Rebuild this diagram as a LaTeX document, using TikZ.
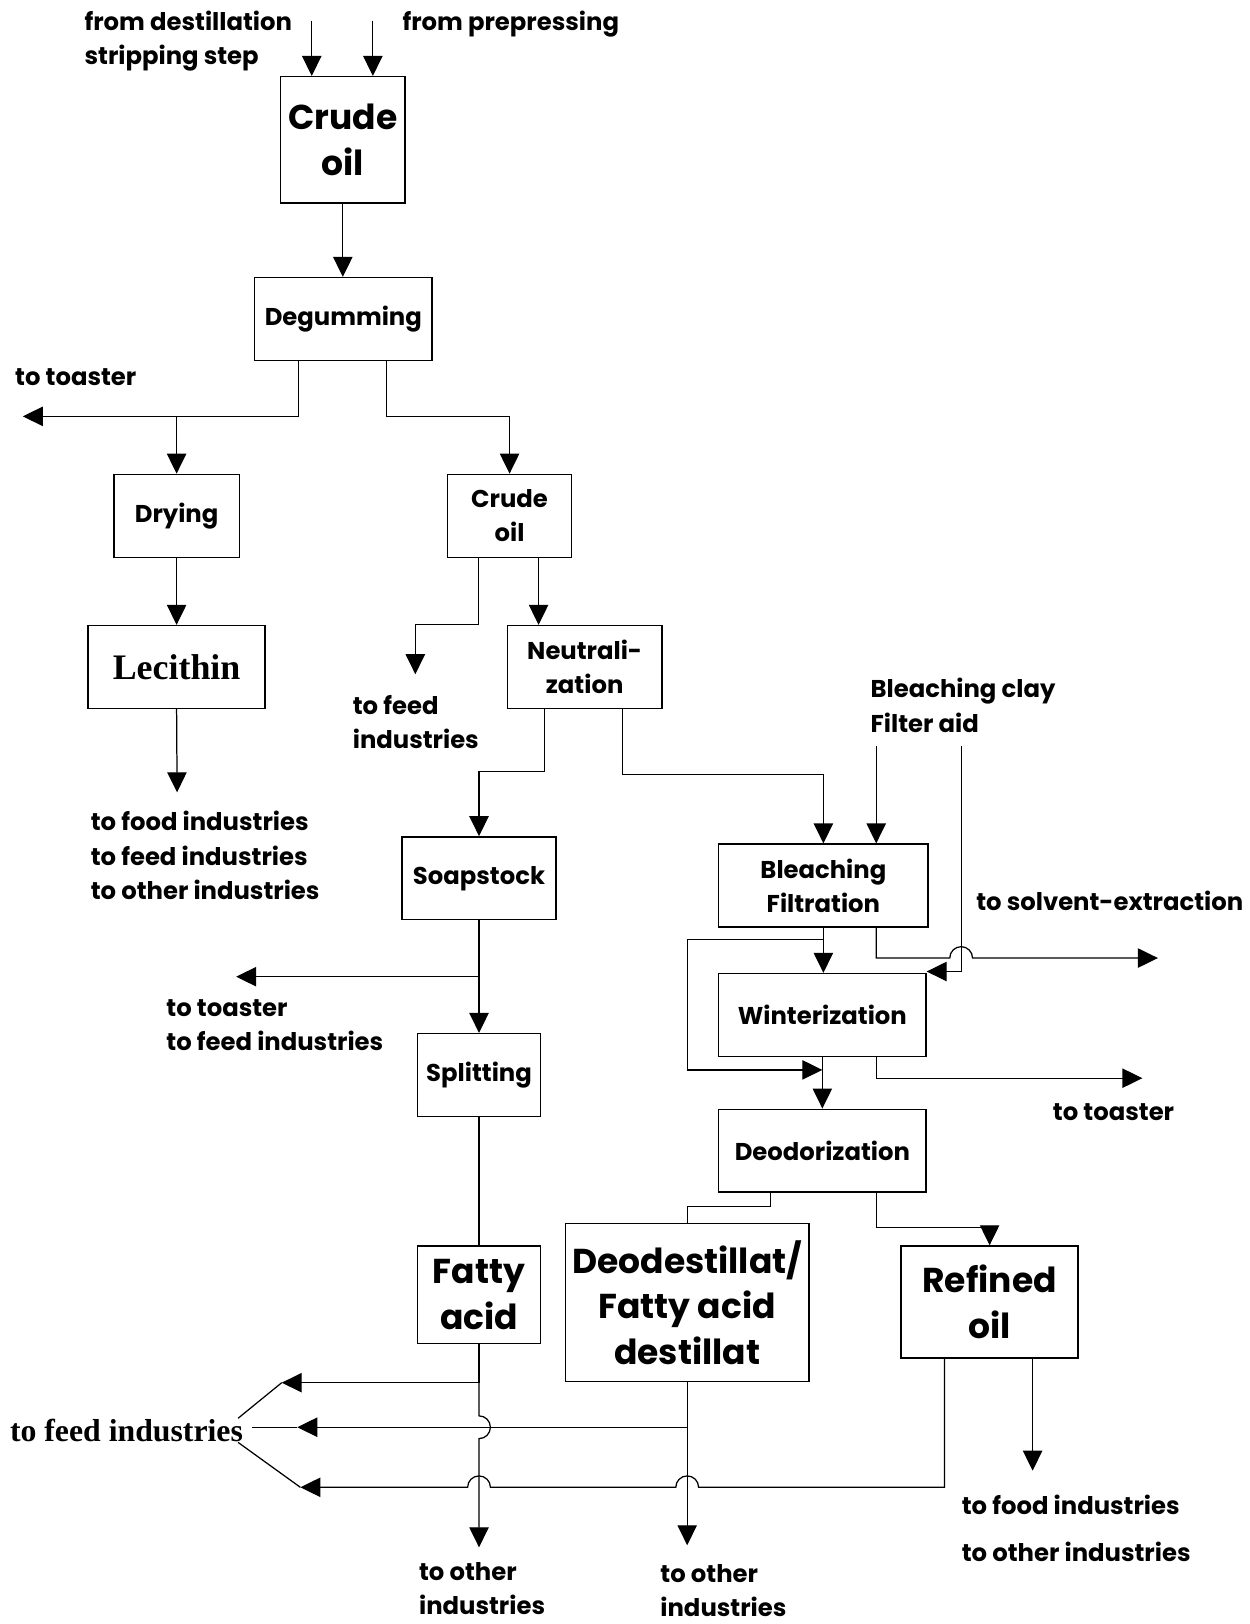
\documentclass[tikz,border=0pt]{standalone}
\usepackage{fontspec}
\setmainfont{Poppins}
\newfontfamily\timesfont{Liberation Serif}
\usetikzlibrary{arrows.meta}

\begin{document}
\begin{tikzpicture}[x=0.75pt, y=-0.75pt, line width=1pt,
    box/.style={draw, align=center, inner sep=0pt, minimum height=60pt,
      font=\bfseries\fontsize{17.6}{24.75}\selectfont},
    bigbox/.style={box, font=\bfseries\fontsize{25}{33}\selectfont},
    lbl/.style={anchor=west, align=left, inner sep=0pt,
      font=\bfseries\fontsize{17.6}{24.75}\selectfont},
    flow/.style={line width=0.9pt, -{Triangle[length=14.5pt, width=14pt]}}]

   \useasboundingbox (0,0) rectangle (1206,1568);

   % process steps
   \node[bigbox, minimum width=90pt, minimum height=91.5pt] (crude) at (331,135) {Crude\\oil};
   \node[box, minimum width=128.25pt] (degum) at (331.5,308) {Degumming};
   \node[box, minimum width=90.75pt] (drying) at (170.5,498) {Drying};
   \node[box, minimum width=128.25pt, font=\timesfont\bfseries\fontsize{26}{30}\selectfont] (lecithin) at (170.5,644) {Lecithin};
   \node[box, minimum width=90pt] (crude2) at (492,498) {Crude\\oil};
   \node[box, minimum width=111.75pt] (neutral) at (564.5,644) {Neutrali-\\zation};
   \node[box, minimum width=111.75pt] (soap) at (462.5,848) {Soapstock};
   \node[box, minimum width=89.25pt] (split) at (462.5,1038) {Splitting};
   \node[box, minimum width=151.5pt] (bleach) at (795,855) {Bleaching\\Filtration};
   \node[box, minimum width=150pt] (winter) at (794,980) {Winterization};
   \node[box, minimum width=150pt] (deodor) at (794,1111) {Deodorization};
   \node[bigbox, minimum width=89.25pt, minimum height=70.5pt] (fatty) at (462.5,1250) {Fatty\\acid};
   \node[bigbox, minimum width=176.25pt, minimum height=114.75pt] (deodest) at (663.5,1257.5) {Deodestillat/\\Fatty acid\\destillat};
   \node[bigbox, minimum width=128.25pt, minimum height=81pt] (refined) at (955.5,1257) {Refined\\oil};

   % inputs and outputs
   \node[lbl] (fromdest) at (81,40) {from destillation\\stripping step};
   \node[lbl] (frompre) at (388,23) {from prepressing};
   \node[lbl] (toastlbl) at (14,364) {to toaster};
   \node[lbl] (lecuse) at (87,826) {to food industries\\to feed industries\\to other industries};
   \node[lbl] (feeduse) at (340,697) {to feed\\industries};
   \node[lbl] (claylbl) at (840,681) {Bleaching clay\\Filter aid};
   \node[lbl] (solvlbl) at (942,870) {to solvent-extraction};
   \node[lbl] (soapuse) at (160,990) {to toaster\\to feed industries};
   \node[lbl] (wintuse) at (1016,1074) {to toaster};
   \node[lbl] (refuse) at (928,1453) {to food industries};
   \node[lbl] (refother) at (928,1498) {to other industries};
   \node[lbl] (fatuse) at (404,1534) {to other\\industries};
   \node[lbl] (deouse) at (637,1536) {to other\\industries};
   \node[lbl, font=\timesfont\bfseries\fontsize{23}{26}\selectfont] (feedlbl) at (9,1381) {to feed industries};

   % free ends and bends
   \coordinate (in1) at (301,20);
   \coordinate (in2) at (360,20);
   \coordinate (dg1) at (288,402);
   \coordinate (dg2) at (373,402);
   \coordinate (toast1) at (22,402);
   \coordinate (lecout) at (171,765);
   \coordinate (cr1) at (462,603);
   \coordinate (feed1) at (401,651);
   \coordinate (cr2) at (520,560);
   \coordinate (ne1) at (526,745);
   \coordinate (ne2) at (601,748);
   \coordinate (clay) at (846,720);
   \coordinate (aid) at (928,720);
   \coordinate (aidturn) at (928,938);
   \coordinate (bl1) at (846,925);
   \coordinate (solv) at (1118,925);
   \coordinate (byp1) at (664,907);
   \coordinate (byp2) at (664,1033);
   \coordinate (wi1) at (846,1041);
   \coordinate (toast3) at (1103,1041);
   \coordinate (de1) at (744,1165);
   \coordinate (de2) at (846,1185);
   \coordinate (so1) at (462.5,943);
   \coordinate (toast2) at (228,943);
   \coordinate (fa1) at (462.5,1335);
   \coordinate (feedA) at (272,1335);
   \coordinate (fatout) at (462.5,1494);
   \coordinate (dd1) at (663.5,1378);
   \coordinate (feedB) at (287,1378);
   \coordinate (deoout) at (663.5,1492);
   \coordinate (re1) at (912,1436);
   \coordinate (feedC) at (290,1436);
   \coordinate (refout) at (997,1420);

   % top part
   \draw[flow] (in1) -- (in1 |- crude.north);
   \draw[flow] (in2) -- (in2 |- crude.north);
   \draw[flow] (crude.south) -- (crude.south |- degum.north);
   \draw[flow] (degum.south -| dg1) -- (dg1) -- (toast1);
   \draw[flow] (dg1 -| drying) -- (drying.north);
   \draw[flow] (degum.south -| dg2) -- (dg2) -| (crude2.north);
   \draw[flow] (drying.south) -- (lecithin.north);
   \draw[flow] (lecithin.south) -- (lecout);
   \draw[flow] (crude2.south -| cr1) -- (cr1) -| (feed1);
   \draw[flow] (crude2.south -| cr2) -- (cr2 |- neutral.north);
   \draw[flow] (neutral.south -| ne1) -- (ne1) -| (soap.north);
   \draw[flow] (neutral.south -| ne2) -- (ne2) -| (bleach.north);

   % bleaching, winterization, deodorization
   \draw[flow] (clay) -- (clay |- bleach.north);
   \draw[flow] (aid) -- (aidturn) -- (aidturn -| winter.east);
   \draw[flow] (bleach.south -| bl1) -- (bl1) -- (917,925)
      arc[start angle=180, end angle=360, radius=11] -- (solv);
   \draw[flow] (bleach.south) -- (bleach.south |- winter.north);
   \draw[flow] (bleach.south |- byp1) -- (byp1) -- (byp2) -- (byp2 -| winter.south);
   \draw[flow] (winter.south) -- (deodor.north);
   \draw[flow] (winter.south -| wi1) -- (wi1) -- (toast3);
   \draw[line width=0.9pt] (deodor.south -| de1) -- (de1) -| (deodest.north);
   \draw[flow] (deodor.south -| de2) -- (de2) -| (refined.north);

   % soapstock line
   \draw[flow] (soap.south) -- (split.north);
   \draw[flow] (so1) -- (toast2);
   \draw[line width=0.9pt] (split.south) -- (fatty.north);

   % bottom part
   \draw[flow] (fatty.south) -- (fa1) -- (feedA);
   \draw[flow] (fa1) -- (462.5,1367)
      arc[start angle=-90, end angle=90, radius=11] -- (fatout);
   \draw[flow] (deodest.south) -- (dd1) -- (feedB);
   \draw[flow] (dd1) -- (deoout);
   \draw[flow] (refined.south -| re1) -- (re1) -- (674.5,1436)
      arc[start angle=0, end angle=-180, radius=11] -- (473.5,1436)
      arc[start angle=0, end angle=-180, radius=11] -- (feedC);
   \draw[flow] (refined.south -| refout) -- (refout);
   \draw[line width=0.9pt] ([xshift=6pt]feedlbl.east |- feedB) -- (feedB);
   \draw[line width=0.9pt] ([xshift=-4pt]feedlbl.north east) -- (feedA);
   \draw[line width=0.9pt] ([xshift=-4pt]feedlbl.south east) -- (feedC);

\end{tikzpicture}
\end{document}
